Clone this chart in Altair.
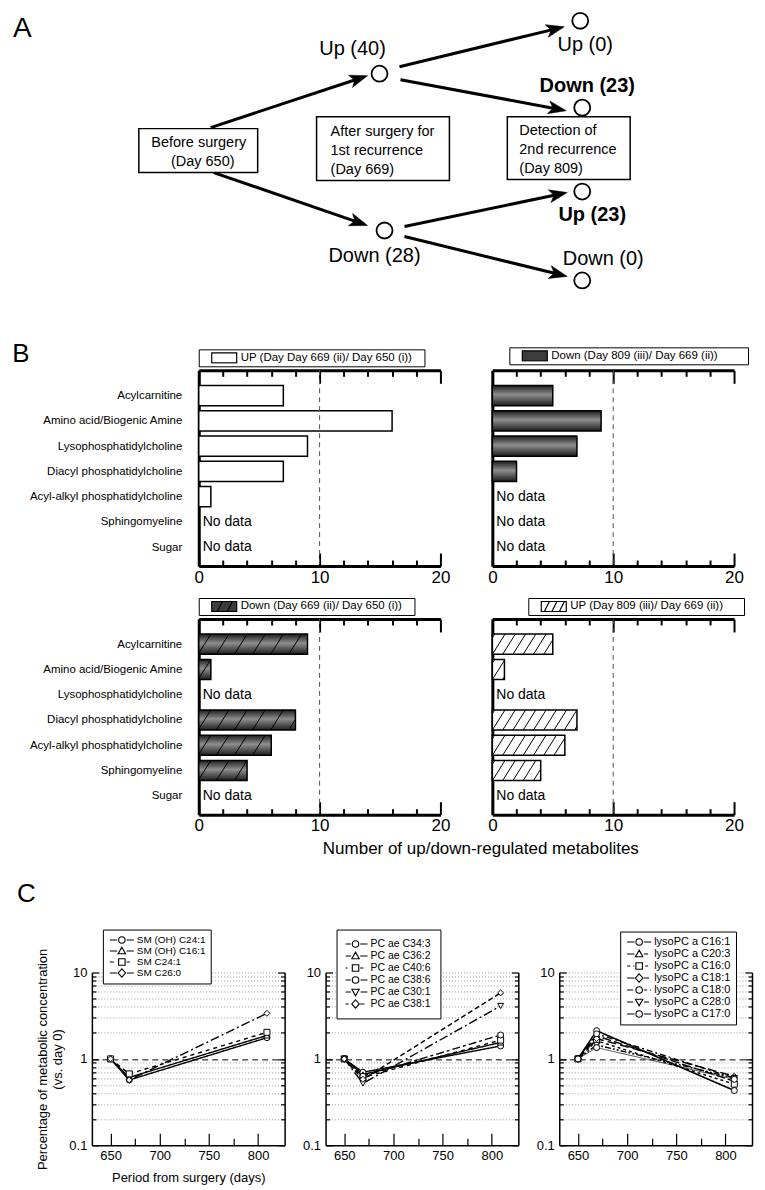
import json
import math
import altair as alt
import pandas as pd

FONT = "Liberation Sans"

# ===================== Panel A : study design diagram =====================
a_letter = "A"
node_labels = ["Up (40)", "Down (28)", "Up (0)", "Down (23)", "Up (23)", "Down (0)"]
node_bold = [False, False, False, True, True, False]
node_x = [379, 384, 580, 582, 582, 582]
node_y = [70, 227, 17, 104, 188, 277]
node_label_x = [352, 374, 585, 587, 592, 603]
node_label_y = [51, 259, 47, 88, 217, 262]

edge_from_x = [210, 213, 399, 400, 404, 404]
edge_from_y = [124, 169, 63, 76, 223, 233]
edge_to_x = [367, 367, 564, 566, 567, 567]
edge_to_y = [72, 222, 23, 107, 189, 273]

box_x1 = [138, 316, 507]
box_x2 = [257, 449, 630]
box_y1 = [125, 113, 113]
box_y2 = [169, 177, 176]
box_text = ["Before surgery", "(Day 650)", "After surgery for", "1st recurrence",
            "(Day 669)", "Detection of", "2nd recurrence", "(Day 809)"]
box_text_x = [198, 202, 330, 330, 330, 519, 519, 519]
box_text_y = [143, 162, 132, 151, 170, 131, 150, 169]
box_text_centered = [True, True, False, False, False, False, False, False]

# ===================== Panel B : counts of changed metabolites =====================
categories = ["Acylcarnitine", "Amino acid/Biogenic Amine", "Lysophosphatidylcholine",
              "Diacyl phosphatidylcholine", "Acyl-alkyl phosphatidylcholine",
              "Sphingomyeline", "Sugar"]
up_669_vs_650 = [7, 16, 9, 7, 1, None, None]
down_809_vs_669 = [5, 9, 7, 2, None, None, None]
down_669_vs_650 = [9, 1, None, 8, 6, 4, None]
up_809_vs_669 = [5, 1, None, 7, 6, 4, None]
b_labels = ["UP (Day Day 669 (ii)/ Day 650 (i))", "Down (Day 809 (iii)/ Day 669 (ii))",
            "Down (Day 669 (ii)/ Day 650 (i))", "UP (Day 809 (iii)/ Day 669 (ii))"]
b_reference = [10]
b_ticks = list(range(0, 21, 2))
b_x_title = "Number of up/down-regulated metabolites"

# ===================== Panel C : time courses =====================
days = [650, 669, 809]
sm_names = ["SM (OH) C24:1", "SM (OH) C16:1", "SM C24:1", "SM C26:0"]
sm_values = [[1.0, 0.57, 1.76], [1.0, 0.61, 1.87], [1.0, 0.67, 2.03], [1.0, 0.57, 3.37]]
pc_names = ["PC ae C34:3", "PC ae C36:2", "PC ae C40:6", "PC ae C38:6", "PC ae C30:1", "PC ae C38:1"]
pc_values = [[1.0, 0.70, 1.41], [1.0, 0.66, 1.55], [1.0, 0.61, 1.65], [1.0, 0.63, 1.89],
             [1.0, 0.52, 4.10], [1.0, 0.58, 5.80]]
lyso_names = ["lysoPC a C16:1", "lysoPC a C20:3", "lysoPC a C16:0", "lysoPC a C18:1",
              "lysoPC a C18:0", "lysoPC a C28:0", "lysoPC a C17:0"]
lyso_values = [[1.0, 2.12, 0.43], [1.0, 1.85, 0.55], [1.0, 1.62, 0.51], [1.0, 1.72, 0.63],
               [1.0, 1.95, 0.60], [1.0, 1.45, 0.60], [1.0, 1.35, 0.58]]
c_y_ticks = [0.1, 0.2, 0.3, 0.4, 0.5, 0.6, 0.7, 0.8, 0.9, 1, 2, 3, 4, 5, 6, 7, 8, 9, 10]
c_x_ticks = [650, 675, 700, 725, 750, 775, 800]
c_y_title = ["Percentage of metabolic concentration", "(vs. day 0)"]
c_x_title = "Period from surgery (days)"

# ---------------- styles ----------------
sm_shapes = ["circle", "triangle-up", "square", "diamond"]
sm_dashes = [[1, 0], [1, 0], [4, 4], [9, 3, 2, 3]]
sm_widths = [1.4, 1.4, 1.4, 1.4]
pc_shapes = ["circle", "triangle-up", "square", "circle", "triangle-down", "diamond"]
pc_dashes = [[1, 0], [1, 0], [4, 4], [8, 3, 3, 3], [9, 3, 2, 3], [5, 3]]
pc_widths = [1.4] * 6
lyso_shapes = ["circle", "triangle-up", "square", "diamond", "circle", "triangle-down", "circle"]
lyso_dashes = [[1, 0], [9, 3], [3, 3], [9, 4], [6, 3, 2, 3], [6, 2, 2, 2, 2, 2], [1, 0]]
lyso_widths = [1.6, 1.4, 1.4, 1.4, 1.4, 1.4, 0.7]

DARK = {"gradient": "linear", "x1": 0, "y1": 0, "x2": 0, "y2": 1,
        "stops": [{"offset": 0, "color": "#1c1c1c"}, {"offset": 0.45, "color": "#8e8e8e"},
                  {"offset": 1, "color": "#1c1c1c"}]}
BLANK = "\u2800"  # blank (non-whitespace) character used to pad legend boxes

# ======================================================================
#                               PANEL A
# ======================================================================
H_A = 305
A_LEFT = 91  # plot origin shared by all panels
ax_s = alt.Scale(domain=[A_LEFT, 757], nice=False, zero=False)
ay_s = alt.Scale(domain=[8, 8 + H_A], nice=False, zero=False, reverse=True)


def AX(f):
    return alt.X(f"{f}:Q", scale=ax_s, axis=None)


def AY(f):
    return alt.Y(f"{f}:Q", scale=ay_s, axis=None)


shafts, heads = [], []
for x1, y1, x2, y2 in zip(edge_from_x, edge_from_y, edge_to_x, edge_to_y):
    dx, dy = x2 - x1, y2 - y1
    L = math.hypot(dx, dy)
    ux, uy = dx / L, dy / L
    shafts.append({"x": x1, "y": y1, "x2": x2 - 12 * ux, "y2": y2 - 12 * uy})
    heads.append({"x": x2, "y": y2, "angle": math.degrees(math.atan2(dy, dx)) % 360})
shafts = pd.DataFrame(shafts)
heads = pd.DataFrame(heads)

HEAD_PATH = "M0,0L-1,-0.36L-0.75,0L-1,0.36Z"

a_shaft = alt.Chart(shafts).mark_rule(color="black", strokeWidth=3).encode(
    x=AX("x"), y=AY("y"), x2="x2:Q", y2="y2:Q")
a_head = alt.Chart(heads).mark_point(shape=HEAD_PATH, size=1296, filled=True, fill="black",
                                     stroke="black", strokeWidth=0.5, opacity=1).encode(
    x=AX("x"), y=AY("y"), angle=alt.Angle("angle:Q", scale=None))
boxes = pd.DataFrame({"x": box_x1, "x2": box_x2, "y": box_y1, "y2": box_y2})
a_box = alt.Chart(boxes).mark_rect(fill="white", stroke="black", strokeWidth=1.5).encode(
    x=AX("x"), x2="x2:Q", y=AY("y"), y2="y2:Q")
nodes = pd.DataFrame({"x": node_x, "y": node_y})
a_node = alt.Chart(nodes).mark_point(shape="circle", size=256, filled=True, fill="white",
                                     stroke="black", strokeWidth=1.8, opacity=1).encode(
    x=AX("x"), y=AY("y"))
nl = pd.DataFrame({"text": node_labels, "x": node_label_x, "y": node_label_y, "bold": node_bold})
a_nl = alt.Chart(nl[~nl["bold"]]).mark_text(fontSize=20, font=FONT, align="center",
                                            baseline="alphabetic", color="black").encode(
    x=AX("x"), y=AY("y"), text="text:N")
a_nlb = alt.Chart(nl[nl["bold"]]).mark_text(fontSize=20, font=FONT, fontWeight="bold", align="center",
                                            baseline="alphabetic", color="black").encode(
    x=AX("x"), y=AY("y"), text="text:N")
bt = pd.DataFrame({"text": box_text, "x": box_text_x, "y": box_text_y, "c": box_text_centered})
a_btc = alt.Chart(bt[bt["c"]]).mark_text(fontSize=14.5, font=FONT, align="center",
                                         baseline="alphabetic", color="black").encode(
    x=AX("x"), y=AY("y"), text="text:N")
a_btl = alt.Chart(bt[~bt["c"]]).mark_text(fontSize=14.5, font=FONT, align="left",
                                          baseline="alphabetic", color="black").encode(
    x=AX("x"), y=AY("y"), text="text:N")
a_let = alt.Chart(pd.DataFrame({"text": [a_letter], "x": [12], "y": [33]})).mark_text(
    fontSize=28, font=FONT, align="left", baseline="alphabetic", color="black").encode(
    x=AX("x"), y=AY("y"), text="text:N")

panel_a = alt.layer(a_shaft, a_head, a_box, a_node, a_nl, a_nlb, a_btc, a_btl, a_let).properties(
    width=757 - A_LEFT, height=H_A)

# ======================================================================
#                               PANEL B
# ======================================================================
x_b = alt.Scale(domain=[0, 20], nice=False, zero=False)
y_b = alt.Scale(domain=[-1.0, 6.75], reverse=True, nice=False, zero=False)
cat_expr = json.dumps(categories) + "[datum.value]"
TICK_B = alt.ExprRef(expr="datum.value % 10 === 0 ? -13 : -6")

RECT = "M-1,-0.4H1V0.4H-1Z"
SYM_PLAIN = RECT
SYM_HATCH2 = RECT + "M-0.55,0.4L-0.15,-0.4M0.25,0.4L0.65,-0.4"
SYM_HATCH3 = RECT + "M-0.75,0.4L-0.35,-0.4M-0.15,0.4L0.25,-0.4M0.45,0.4L0.85,-0.4"


def hatch_segments(values, spacing, slant, offset):
    segs = []
    for row, v in enumerate(values):
        if v is None:
            continue
        k = -2
        while True:
            x0 = offset + k * spacing
            if x0 >= v:
                break
            t0 = max(0.0, (0 - x0) / slant)
            t1 = min(1.0, (v - x0) / slant)
            if t1 > t0 + 1e-6:
                segs.append({"hx0": x0 + t0 * slant, "hy0": row + 0.4 - 0.8 * t0,
                             "hx1": x0 + t1 * slant, "hy1": row + 0.4 - 0.8 * t1})
            k += 1
    return pd.DataFrame(segs)


def b_panel(values, label, fill, swatch, sym, hatch, show_cats, leg_x, leg_y, n_sp, x_title=False):
    df = pd.DataFrame({"category": categories, "row": list(range(len(categories))),
                       "value": [float("nan") if v is None else v for v in values]})
    df["series"] = label
    df["start"] = 0.0
    bars = df[df["value"].notna()].copy()
    bars["top"] = bars["row"] - 0.4
    bars["bottom"] = bars["row"] + 0.4
    nod = df[df["value"].isna()].copy()

    common = dict(orient="bottom", values=b_ticks,
                  labelExpr="datum.value % 10 === 0 ? datum.label : ''",
                  tickSize=TICK_B, tickWidth=2, domainWidth=3, labelFontSize=17,
                  labelPadding=16, labelFlush=False, labelOverlap=False, grid=False)
    if x_title:
        bottom_axis = alt.Axis(title=b_x_title, titleFontSize=17, titleFontWeight="normal",
                               titleX=282, titleY=34, titleAlign="center", titleBaseline="middle",
                               **common)
    else:
        bottom_axis = alt.Axis(title=None, **common)
    top_axis = alt.Axis(orient="top", values=b_ticks, labels=False, tickSize=TICK_B, tickWidth=2,
                        domainWidth=3, grid=False, title=None)
    left_axis = alt.Axis(orient="left", values=list(range(len(categories))), labelExpr=cat_expr,
                         labels=show_cats, ticks=False, tickSize=0, domainWidth=3, labelFontSize=11.5,
                         labelPadding=17, labelOverlap=False, labelFlush=False, grid=False, title=None)

    legend = alt.Legend(title=None, orient="none", legendX=leg_x, legendY=leg_y, fillColor="white",
                        strokeColor="black", padding=2.5, symbolType=sym, symbolSize=625,
                        symbolOffset=9.5, symbolStrokeColor="black", symbolStrokeWidth=1.2,
                        symbolOpacity=1, labelFontSize=11.5, labelOffset=3, labelLimit=400,
                        labelExpr="datum.label + '" + BLANK * n_sp + "'", clipHeight=12)
    leg_layer = alt.Chart(bars).transform_filter("datum.value < 0").mark_rect(
        stroke="black", strokeWidth=1.2).encode(
        x=alt.X("start:Q", scale=x_b, axis=None), x2="value:Q",
        y=alt.Y("top:Q", scale=y_b, axis=None), y2="bottom:Q",
        fill=alt.Fill("series:N", scale=alt.Scale(domain=[label], range=[swatch]), legend=legend))
    bar_layer = alt.Chart(bars).mark_rect(fill=fill, stroke="black", strokeWidth=1.5).encode(
        x=alt.X("start:Q", scale=x_b, axis=bottom_axis), x2="value:Q",
        y=alt.Y("top:Q", scale=y_b, axis=left_axis), y2="bottom:Q")
    layers = [leg_layer, bar_layer]
    if hatch is not None:
        hs = hatch_segments(values, *hatch)
        layers.append(alt.Chart(hs).mark_rule(color="black", strokeWidth=1).encode(
            x=alt.X("hx0:Q", scale=x_b, axis=None), x2="hx1:Q",
            y=alt.Y("hy0:Q", scale=y_b, axis=None), y2="hy1:Q"))
    layers.append(alt.Chart(nod).mark_text(align="left", baseline="middle", dx=4, fontSize=14,
                                           font=FONT, color="black").encode(
        x=alt.X("start:Q", scale=x_b, axis=None), y=alt.Y("row:Q", scale=y_b, axis=None),
        text=alt.value("No data")))
    layers.append(alt.Chart(pd.DataFrame({"ref": b_reference})).mark_rule(
        color="#555555", strokeDash=[5, 4], strokeWidth=1).encode(
        x=alt.X("ref:Q", scale=x_b, axis=top_axis)))
    return alt.layer(*layers).resolve_axis(x="independent", y="independent").properties(
        width=242, height=196)


def spacer(w, h):
    return alt.Chart(pd.DataFrame({"v": [0]})).mark_point(opacity=0).encode(
        x=alt.X("v:Q", axis=None), y=alt.Y("v:Q", axis=None)).properties(width=w, height=h)


tl = b_panel(up_669_vs_650, b_labels[0], "white", "white", SYM_PLAIN, None, True, 0, -21, 1)
tr = b_panel(down_809_vs_669, b_labels[1], DARK, "#3c3c3c", SYM_PLAIN, None, False, 17, -23, 3)
bl = b_panel(down_669_vs_650, b_labels[2], DARK, "#3c3c3c", SYM_HATCH2, (1.5, 1.05, -0.05), True,
             0, -21, 1, x_title=True)
br = b_panel(up_809_vs_669, b_labels[3], "white", "white", SYM_HATCH3, (0.85, 1.05, 0.0), False,
             36, -21, 2)

panel_b = alt.concat(spacer(55, 196), tl, tr, spacer(55, 196), bl, br, columns=3, align="each",
                     spacing={"row": 53, "column": 52}, bounds="flush",
                     title=alt.TitleParams("B", anchor="start", fontSize=26, fontWeight="normal",
                                           dx=-17, offset=-20)
                     ).resolve_scale(fill="independent").resolve_legend(fill="independent")

# ======================================================================
#                               PANEL C
# ======================================================================
x_c = alt.Scale(domain=[631, 827], nice=False, zero=False)
y_c = alt.Scale(type="log", domain=[0.1, 10], nice=False)
TICK_CY = alt.ExprRef(expr="indexof([0.1, 1, 10], datum.value) >= 0 ? -7 : -4")
TICK_CX = alt.ExprRef(expr="datum.value % 50 === 0 ? -12 : -7")
Y_LABELS = "datum.value === 0.1 ? '0.1' : datum.value === 1 ? '1' : datum.value === 10 ? '10' : ''"

UNIT = 12.0  # px per legend-path unit (symbolSize 576)


def marker_path(shape, m):
    if shape == "circle":
        return f"M{-m},0A{m},{m} 0 1,0 {m},0A{m},{m} 0 1,0 {-m},0Z"
    if shape == "square":
        return f"M{-m},{-m}H{m}V{m}H{-m}Z"
    if shape == "triangle-up":
        return f"M0,{-m * 1.2}L{m * 1.15},{m * 0.85}H{-m * 1.15}Z"
    if shape == "triangle-down":
        return f"M0,{m * 1.2}L{m * 1.15},{-m * 0.85}H{-m * 1.15}Z"
    if shape == "diamond":
        return f"M0,{-m * 1.3}L{m * 1.15},0L0,{m * 1.3}L{-m * 1.15},0Z"
    return ""


def legend_path(shape, dash, m=0.27):
    g = m + 0.12
    segs = []
    pat = [d / UNIT for d in dash]
    solid = len(pat) == 2 and pat[1] == 0
    if solid:
        segs = [(-1.0, -g), (g, 1.0)]
    else:
        x, i = -1.0, 0
        while x < 1.0 - 1e-9:
            x2 = min(1.0, x + pat[i % len(pat)])
            if i % 2 == 0:
                for a, b in ((x, min(x2, -g)), (max(x, g), x2)):
                    if b > a + 1e-6:
                        segs.append((a, b))
            x = x2
            i += 1
    s = "".join(f"M{a:.3f},0H{b:.3f}" for a, b in segs)
    return s + marker_path(shape, m)


def c_panel(names, values, shapes, dashes, widths, leg_x, leg_y, pad, rowpad, font, titles):
    rows = []
    for n, vals, w in zip(names, values, widths):
        for d, v in zip(days, vals):
            rows.append({"series": n, "day": d, "value": v, "w": w})
    df = pd.DataFrame(rows)
    left_axis = alt.Axis(orient="left", values=c_y_ticks, labelExpr=Y_LABELS, tickSize=TICK_CY,
                         tickWidth=1.2, domainWidth=1.5, labelFontSize=13, labelPadding=12,
                         labelOverlap=False, labelFlush=False, grid=True, gridWidth=1,
                         gridColor={"condition": {"test": "datum.value === 1", "value": "#000000"},
                                    "value": "#9a9a9a"},
                         gridDash={"condition": {"test": "datum.value === 1", "value": [6, 4]},
                                   "value": [1, 2]},
                         gridOpacity={"condition": {"test": "datum.value === 0.1", "value": 0},
                                      "value": 1},
                         title=c_y_title if titles else None, titleFontSize=13,
                         titleFontWeight="normal", titlePadding=4)
    right_axis = alt.Axis(orient="right", values=c_y_ticks, labels=False, tickSize=TICK_CY,
                          tickWidth=1.2, domainWidth=1.5, grid=False, title=None)
    x_axis = alt.Axis(orient="bottom", values=c_x_ticks, format="d",
                      labelExpr="datum.value % 50 === 0 ? datum.label : ''", tickSize=TICK_CX,
                      tickWidth=1.2, domainWidth=1.5, labelFontSize=13, labelPadding=16,
                      labelOverlap=False, labelFlush=False, grid=False,
                      title=c_x_title if titles else None, titleFontSize=13,
                      titleFontWeight="normal", titlePadding=4)
    dash_scale = alt.Scale(domain=names, range=dashes)
    layers = []
    first = True
    for w in sorted(set(widths), reverse=True):
        sub = df[df["w"] == w]
        layers.append(alt.Chart(sub).mark_line(color="black", strokeWidth=w).encode(
            x=alt.X("day:Q", scale=x_c, axis=x_axis if first else None),
            y=alt.Y("value:Q", scale=y_c, axis=left_axis if first else None),
            strokeDash=alt.StrokeDash("series:N", scale=dash_scale, legend=None),
            detail="series:N"))
        first = False
    layers.append(alt.Chart(df).mark_point(filled=True, fill="white", stroke="black", strokeWidth=1,
                                           size=36, opacity=1).encode(
        x=alt.X("day:Q", scale=x_c, axis=None),
        y=alt.Y("value:Q", scale=y_c, axis=right_axis),
        shape=alt.Shape("series:N", scale=alt.Scale(domain=names, range=shapes), legend=None)))
    paths = [legend_path(s, d) for s, d in zip(shapes, dashes)]
    legend = alt.Legend(title=None, orient="none", legendX=leg_x, legendY=leg_y, fillColor="white",
                        strokeColor="black", padding=pad, rowPadding=rowpad, symbolSize=576,
                        symbolOffset=6 - pad, symbolStrokeWidth=1.1, symbolOpacity=1,
                        labelFontSize=font, labelOffset=2, labelLimit=300, clipHeight=11)
    layers.append(alt.Chart(df).transform_filter("datum.value < 0").mark_point(
        filled=False, color="black", strokeWidth=1.1, size=576, opacity=1).encode(
        x=alt.X("day:Q", scale=x_c, axis=None),
        y=alt.Y("value:Q", scale=y_c, axis=None),
        shape=alt.Shape("series:N", scale=alt.Scale(domain=names, range=paths), legend=legend)))
    return alt.layer(*layers).resolve_scale(shape="independent").resolve_axis(
        x="independent", y="independent").properties(width=193, height=173)


p1 = c_panel(sm_names, sm_values, sm_shapes, sm_dashes, sm_widths, 11, -43, 5, 0, 10, True)
p2 = c_panel(pc_names, pc_values, pc_shapes, pc_dashes, pc_widths, 11, -43, 9, 1, 10.5, False)
p3 = c_panel(lyso_names, lyso_values, lyso_shapes, lyso_dashes, lyso_widths, 61, -41, 5, 0, 11, False)

panel_c = alt.hconcat(p1, p2, p3, spacing=41, bounds="flush",
                      title=alt.TitleParams("C", anchor="start", fontSize=26, fontWeight="normal",
                                            dx=-20, offset=22)
                      ).resolve_scale(shape="independent", strokeDash="independent"
                                      ).resolve_legend(shape="independent", strokeDash="independent")

chart = alt.vconcat(panel_a, panel_b, panel_c, spacing=24).resolve_scale(
    fill="independent", shape="independent", strokeDash="independent").resolve_legend(
    fill="independent", shape="independent", strokeDash="independent").properties(
    padding={"left": 4, "top": 0, "right": 0, "bottom": 0})
chart = (chart.configure(font=FONT)
         .configure_view(stroke=None)
         .configure_axis(labelFont=FONT, titleFont=FONT, labelColor="black", titleColor="black",
                         domainColor="black", tickColor="black")
         .configure_legend(labelFont=FONT, labelColor="black")
         .configure_title(font=FONT, color="black", fontWeight="normal"))

chart.save("out.html", embed_options={"renderer": "svg", "actions": False})
